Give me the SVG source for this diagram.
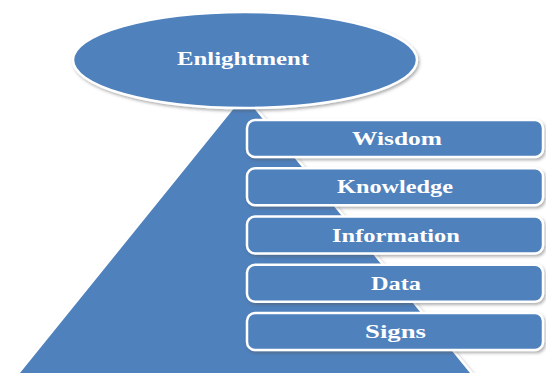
<svg xmlns="http://www.w3.org/2000/svg" width="546" height="373" viewBox="0 0 546 373">
  <defs>
    <filter id="shadow" x="-10%" y="-10%" width="120%" height="130%">
      <feDropShadow dx="1.5" dy="2" stdDeviation="1.5" flood-color="#555" flood-opacity="0.45"/>
    </filter>
  </defs>
  <style>
    .shape { fill: #4F81BD; stroke: #ffffff; stroke-width: 2.5; filter: url(#shadow); }
    .label { fill: #ffffff; font-family: "Liberation Serif", "Times New Roman", serif; font-weight: bold; font-size: 18px; text-anchor: middle; }
  </style>
  <rect width="546" height="373" fill="#ffffff"/>
  <g id="pyramid">
    <polygon class="shape" points="244,94 474,376 16,376"/>
  </g>
  <g id="enlightment">
    <ellipse class="shape" cx="245" cy="60" rx="172" ry="48"/>
    <text class="label" x="243" y="65" textLength="132" lengthAdjust="spacingAndGlyphs">Enlightment</text>
  </g>
  <g id="wisdom">
    <rect class="shape" x="247" y="120" width="296" height="37" rx="8" ry="8"/>
    <text class="label" x="397" y="145" textLength="90" lengthAdjust="spacingAndGlyphs">Wisdom</text>
  </g>
  <g id="knowledge">
    <rect class="shape" x="247" y="168.3" width="296" height="37" rx="8" ry="8"/>
    <text class="label" x="395" y="193" textLength="116" lengthAdjust="spacingAndGlyphs">Knowledge</text>
  </g>
  <g id="information">
    <rect class="shape" x="247" y="216.5" width="296" height="37" rx="8" ry="8"/>
    <text class="label" x="396" y="241.5" textLength="128" lengthAdjust="spacingAndGlyphs">Information</text>
  </g>
  <g id="data">
    <rect class="shape" x="247" y="264.8" width="296" height="37" rx="8" ry="8"/>
    <text class="label" x="396" y="290" textLength="50" lengthAdjust="spacingAndGlyphs">Data</text>
  </g>
  <g id="signs">
    <rect class="shape" x="247" y="313" width="296" height="37" rx="8" ry="8"/>
    <text class="label" x="395.5" y="338" textLength="61" lengthAdjust="spacingAndGlyphs">Signs</text>
  </g>
  <g id="connectors"/>
</svg>
